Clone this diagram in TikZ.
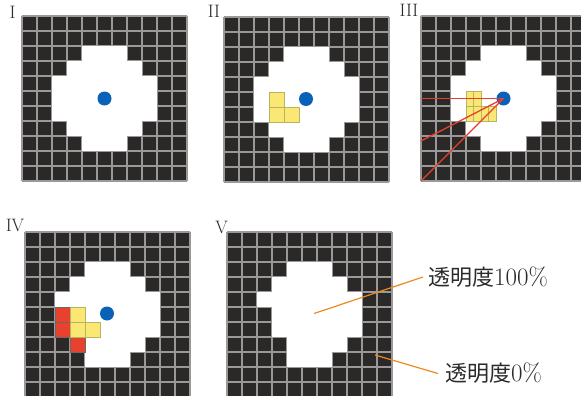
\documentclass[tikz,border=0pt]{standalone}
\usepackage{fontspec}
\newfontfamily\cjk{Noto Sans CJK JP}
\definecolor{cellbg}{HTML}{2B2828}
\definecolor{gridln}{HTML}{9A9898}
\definecolor{dotblue}{HTML}{0A62B8}
\definecolor{ycell}{HTML}{FBE774}
\definecolor{yedge}{HTML}{B7B45E}
\definecolor{rcell}{HTML}{E8412E}
\definecolor{rline}{HTML}{E5402E}
\definecolor{oline}{HTML}{EF8A22}
\definecolor{txt}{HTML}{2A2A2A}
\tikzset{
  gridline/.style={draw=gridln,line width=1.1pt},
  dot/.style={circle,fill=dotblue,minimum size=14pt,inner sep=0pt},
  yellowcell/.style={fill=ycell,draw=yedge,line width=0.5pt},
  redcell/.style={fill=rcell,draw=cellbg!70,line width=0.5pt},
  redline/.style={draw=rline,line width=1.3pt},
  orangeline/.style={draw=oline,line width=1.2pt},
  numeral/.style={font=\fontsize{18}{18}\selectfont,text=txt,inner sep=0pt},
  label/.style={anchor=west,inner sep=0pt,text=txt},
}
\newcommand\gridpanel[3]{%
  \begin{scope}[shift={(#1,#2)}]
    \fill[cellbg] (0,0) rectangle (165,165);
    \foreach \i in {0,...,11} {
      \draw[gridline] (15*\i,0) -- (15*\i,165);
      \draw[gridline] (0,15*\i) -- (165,15*\i);
    }
    \foreach \r/\a/\b in {#3} {
      \fill[white] (15*\a,15*\r) rectangle (15*\b+15,15*\r+15);
    }
  \end{scope}}
\newcommand\cjktext[2]{{\cjk\fontsize{22}{22}\selectfont #1}{\fontsize{25}{25}\selectfont #2}}
\begin{document}
\begin{tikzpicture}[x=1pt,y=-1pt]
\useasboundingbox (0,0) rectangle (581,396);
\fill[white] (0,0) rectangle (581,396);
% panels
\gridpanel{22}{16}{2/4/6,3/3/7,4/2/8,5/2/8,6/2/8,7/3/7,8/4/6}
\gridpanel{224}{17}{2/4/6,3/3/7,4/2/8,5/2/8,6/2/8,7/3/7,8/4/6}
\gridpanel{421}{16}{2/4/6,3/3/7,4/2/8,5/2/8,6/2/8,7/3/7,8/4/6}
\gridpanel{25}{232}{2/4/6,3/3/7,4/2/8,5/2/8,6/2/8,7/3/7,8/4/6}
\gridpanel{227}{232}{2/4/6,3/3/7,4/2/8,5/3/8,6/3/8,7/4/7,8/4/6}
% numerals
\node[numeral] (n1) at (12.5,12) {I};
\node[numeral] (n2) at (214,11) {II};
\node[numeral] (n3) at (409,10.5) {III};
\node[numeral] (n4) at (15,225.5) {IV};
\node[numeral] (n5) at (221.5,227.5) {V};
% panel II cells
\begin{scope}[shift={(224,17)}]
  \draw[yellowcell] (45,75) rectangle (60,90);
  \draw[yellowcell] (45,90) rectangle (60,105);
  \draw[yellowcell] (60,90) rectangle (75,105);
\end{scope}
% panel III cells
\begin{scope}[shift={(421,16)}]
  \draw[yellowcell] (45,75) rectangle (60,90);
  \draw[yellowcell] (45,90) rectangle (60,105);
  \draw[yellowcell] (60,90) rectangle (75,105);
  \draw[draw=yedge,line width=0.4pt] (52.5,75) -- (52.5,105);
  \draw[draw=yedge,line width=0.4pt] (67.5,90) -- (67.5,105);
\end{scope}
% panel IV cells
\begin{scope}[shift={(25,232)}]
  \draw[redcell] (30,75) rectangle (45,90);
  \draw[redcell] (30,90) rectangle (45,105);
  \draw[redcell] (45,105) rectangle (60,120);
  \draw[yellowcell] (45,75) rectangle (60,90);
  \draw[yellowcell] (45,90) rectangle (60,105);
  \draw[yellowcell] (60,90) rectangle (75,105);
\end{scope}
% dots
\node[dot] (c1) at (104.5,98.5) {};
\node[dot] (c2) at (306,99) {};
\node[dot] (c3) at (503.5,98.5) {};
\node[dot] (c4) at (107,313.5) {};
% rays in III
\coordinate (r1) at (421,98.5);
\coordinate (r2) at (421,141);
\coordinate (r3) at (421,181);
\draw[redline] (c3.center) -- (r1);
\draw[redline] (c3.center) -- (r2);
\draw[redline] (c3.center) -- (r3);
% labels in V
\node[label] (t1) at (428,277) {\cjktext{透明度}{100\%}};
\node[label] (t2) at (445,373.5) {\cjktext{透明度}{0\%}};
\coordinate (p1) at (314,313.5);
\coordinate (p2) at (375,355);
\draw[orangeline] (p1) -- ([xshift=-5pt]t1.west);
\draw[orangeline] (p2) -- ([xshift=-7pt]t2.west);
\end{tikzpicture}
\end{document}
